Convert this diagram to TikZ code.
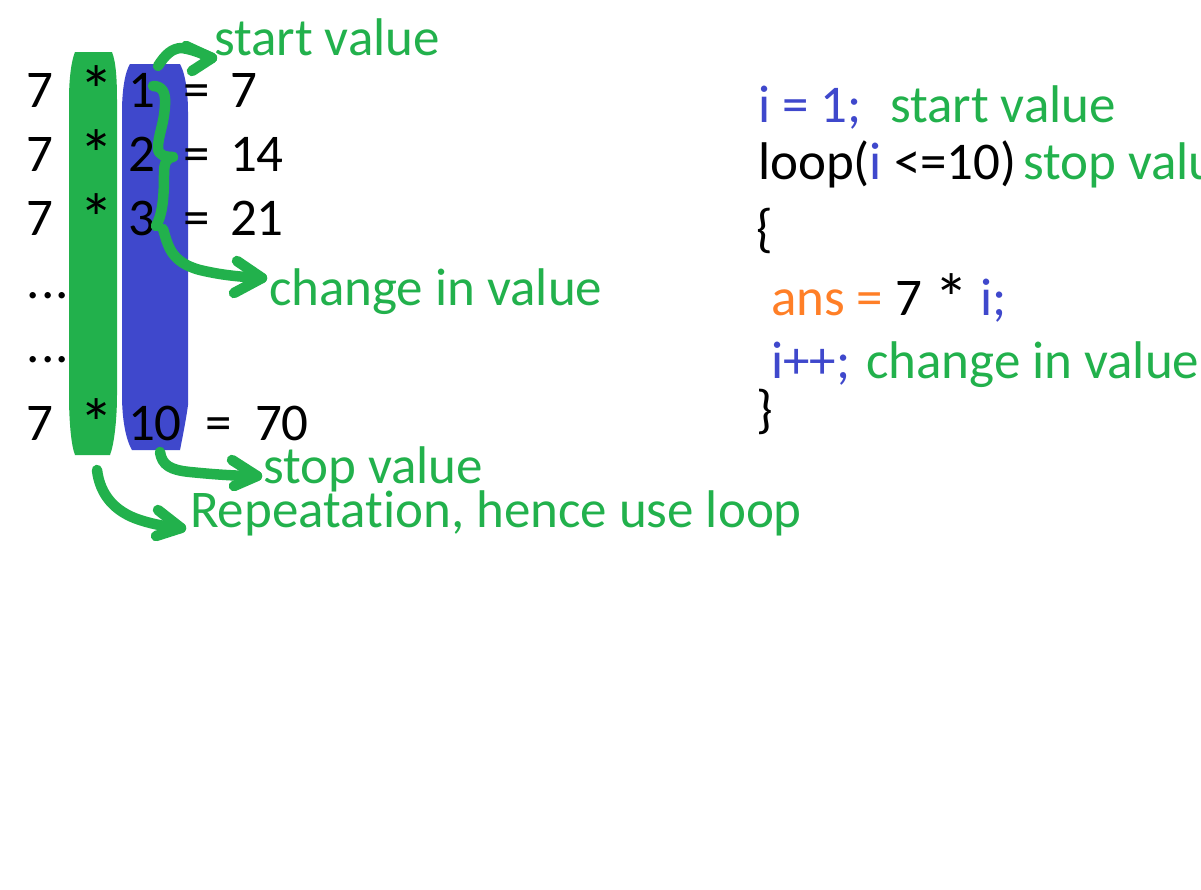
\documentclass[tikz,border=0pt]{standalone}
\usepackage{fontspec}
\setmainfont{Carlito}[Ligatures=NoCommon]
\definecolor{pgreen}{RGB}{34,177,76}
\definecolor{pblue}{RGB}{63,72,204}
\definecolor{porange}{RGB}{255,127,39}
\newcommand{\bigast}{\raisebox{-7pt}{\scalebox{1.3}{*}}}
\begin{document}
\begin{tikzpicture}[x=1pt,y=-1pt,
  txt/.style={anchor=base west,inner sep=0pt,outer sep=0pt,font=\fontsize{53}{62}\selectfont},
  lbl/.style={txt,text=pgreen},
  code/.style={txt},
  stroke/.style={draw=pgreen,line width=10.5pt,line cap=round,line join=round}]
\useasboundingbox (0,0) rectangle (1201,889);
\fill[white] (0,0) rectangle (1201,889);
\clip (0,0) rectangle (1201,889);

% pills
\fill[pgreen] (75,52) -- (112,52) .. controls (116,62) and (117,80) .. (117,100) -- (117,395)
  .. controls (117,420) and (114,445) .. (110,455) -- (75,455)
  .. controls (71,445) and (69,420) .. (69,395) -- (69,100)
  .. controls (69,80) and (71,62) .. (75,52) -- cycle;
\fill[pblue] (130,64) -- (180,64) .. controls (186,75) and (188,95) .. (188,112) -- (188,405)
  .. controls (186,420) and (182,440) .. (180,450) -- (132,450)
  .. controls (126,440) and (122,420) .. (122,395) -- (122,112)
  .. controls (122,90) and (125,72) .. (130,64) -- cycle;

% left table
\node[txt] (r1a) at (26,107) {7};
\node[txt] (r1b) at (79,107) {\bigast};
\node[txt] (r1c) at (128,107) {1};
\node[txt] (r1d) at (183,107) {=};
\node[txt] (r1e) at (230,107) {7};
\node[txt] (r2a) at (26,171) {7};
\node[txt] (r2b) at (79,171) {\bigast};
\node[txt] (r2c) at (128,171) {2};
\node[txt] (r2d) at (183,171) {=};
\node[txt] (r2e) at (230,171) {14};
\node[txt] (r3a) at (26,235) {7};
\node[txt] (r3b) at (79,235) {\bigast};
\node[txt] (r3c) at (128,235) {3};
\node[txt] (r3d) at (183,235) {=};
\node[txt] (r3e) at (230,235) {21};
\node[txt] (d1) at (27,298) {.\kern1pt.\kern1pt.};
\node[txt] (d2) at (27,362) {.\kern1pt.\kern1pt.};
\node[txt] (r4a) at (26,440) {7};
\node[txt] (r4b) at (79,440) {\bigast};
\node[txt] (r4c) at (128,440) {10};
\node[txt] (r4d) at (205,440) {=};
\node[txt] (r4e) at (255,440) {70};

% left labels
\node[lbl] (lstart) at (214,55) {start value};
\node[lbl] (lchange) at (269,305) {change in value};
\node[lbl] (lstop) at (263,483) {stop value};
\node[lbl] (lrep) at (190,527) {Repeatation, hence use loop};

% arrow endpoints
\coordinate (s0) at (158,66);
\coordinate (s1) at (212,58);
\coordinate (b0) at (153,86);
\coordinate (bm) at (173,157);
\coordinate (b1) at (156,226);
\coordinate (c0) at (163,229);
\coordinate (c1) at (262,278);
\coordinate (t0) at (160,452);
\coordinate (t1) at (257,476);
\coordinate (p0) at (97,470);
\coordinate (p1) at (181,528);

% start value arrow
\draw[stroke] (s0) .. controls (165,55) and (172,48) .. (182,48) .. controls (195,50) and (205,55) .. (s1);
\draw[stroke] (186,46) -- (s1) -- (192,71);
% brace
\draw[stroke] (b0) .. controls (162,86) and (166,92) .. (165,105) .. controls (164,125) and (158,135) .. (158,148)
  .. controls (158,155) and (165,157) .. (bm);
\draw[stroke] (bm) .. controls (166,158) and (164,163) .. (164,175) .. controls (164,200) and (162,215) .. (b1);
% change arrow
\draw[stroke] (c0) .. controls (168,245) and (170,262) .. (200,270) .. controls (225,276) and (245,277) .. (c1);
\draw[stroke] (237,261) -- (c1) -- (234,293);
% stop arrow
\draw[stroke] (t0) .. controls (162,465) and (170,470) .. (190,472) .. controls (220,475) and (240,476) .. (t1);
\draw[stroke] (232,460) -- (t1) -- (234,486);
% repeat arrow
\draw[stroke] (p0) .. controls (100,495) and (115,512) .. (140,520) .. controls (155,525) and (170,527) .. (p1);
\draw[stroke] (158,510) -- (p1) -- (156,536);

% code
\node[code,text=pblue] (c1l) at (758,122) {i = 1;};
\node[lbl] (cstart) at (890,122) {start value};
\node[code] (c2l) at (758,179) {loop(\textcolor{pblue}{i} <=10)};
\node[lbl] (cstop) at (1023,179) {stop value};
\node[code] (c3l) at (756,246) {\{};
\node[code] (c4l) at (771,315) {\textcolor{porange}{ans =} 7 \bigast{} \textcolor{pblue}{i;}};
\node[code,text=pblue] (c5l) at (771,378) {i++;};
\node[lbl] (cchange) at (866,378) {change in value};
\node[code] (c6l) at (756,427) {\}};
\end{tikzpicture}
\end{document}
